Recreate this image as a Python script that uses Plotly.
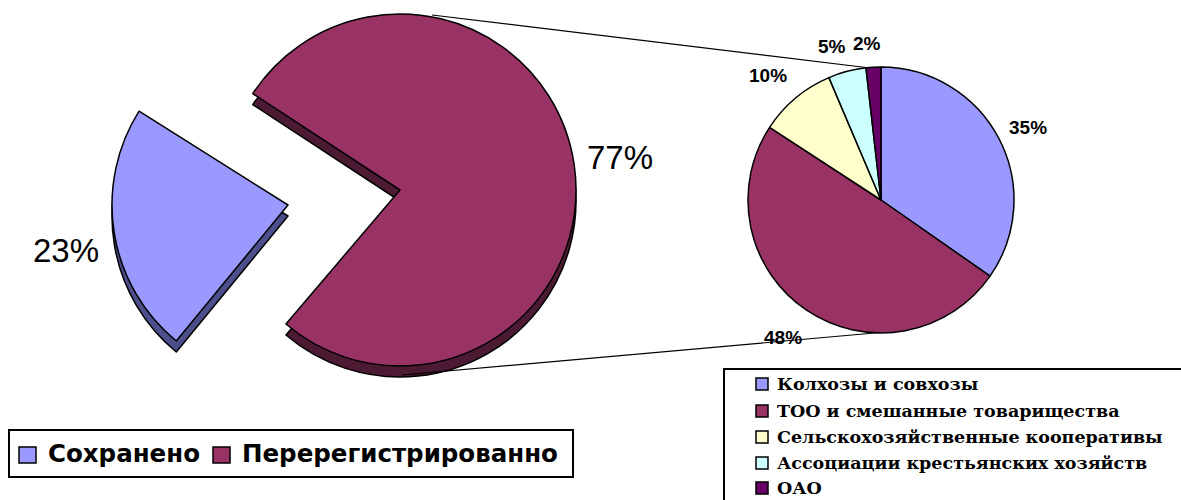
import plotly.graph_objects as go

W, H = 1181, 500

main_labels = ["Сохранено", "Перерегистрированно"]
main_values = [23, 77]
main_colors = ["#9999ff", "#993366"]
main_dark = ["#4d4f8c", "#4d1a33"]

detail_labels = ["Колхозы и совхозы", "ТОО и смешанные товарищества",
                 "Сельскохозяйственные кооперативы",
                 "Ассоциации крестьянских хозяйств", "ОАО"]
# slice sizes; printed labels as printed there
detail_values = [34.7, 49.5, 9.4, 4.6, 1.8]
detail_printed = ["35%", "48%", "10%", "5%", "2%"]
detail_colors = ["#9999ff", "#993366", "#ffffcc", "#ccffff", "#660066"]

CLEAR = "rgba(0,0,0,0)"
ROT_MAIN = 220.4
ROT_CUT = 219.4


def domain(cx, cy, r):
    return dict(x=[(cx - r) / W, (cx + r) / W], y=[1 - (cy + r) / H, 1 - (cy - r) / H])


def px(x):
    return x / W


def py(y):
    return 1 - y / H


def main_pie(cx, cy, colors, show, rot):
    return go.Pie(labels=main_labels, values=main_values, sort=False, direction="clockwise",
                  rotation=rot, domain=domain(cx, cy, 176), textinfo="none", showlegend=False,
                  marker=dict(colors=[c if s else CLEAR for c, s in zip(colors, show)],
                              line=dict(color=["#000000" if s else CLEAR for s in show],
                                        width=[1.5 if s else 0 for s in show])))


fig = go.Figure()
fig.add_trace(main_pie(400, 201, main_dark, [False, True], ROT_MAIN))
fig.add_trace(main_pie(400, 190, main_colors, [False, True], ROT_MAIN))
fig.add_trace(main_pie(288, 216, main_dark, [True, False], ROT_CUT))
fig.add_trace(main_pie(288, 205, main_colors, [True, False], ROT_CUT))
fig.add_trace(go.Pie(labels=detail_labels, values=detail_values, sort=False, direction="clockwise",
                     rotation=0, domain=domain(881, 200, 133), textinfo="none", showlegend=False,
                     marker=dict(colors=detail_colors, line=dict(color="#000000", width=1.5))))

shapes = []
annotations = []


def line(x0, y0, x1, y1, w=1.2):
    shapes.append(dict(type="line", xref="paper", yref="paper", x0=px(x0), y0=py(y0),
                       x1=px(x1), y1=py(y1), line=dict(color="#000000", width=w)))


def rect(x0, y0, x1, y1, fill, w=1.5):
    shapes.append(dict(type="rect", xref="paper", yref="paper", x0=px(x0), y0=py(y0),
                       x1=px(x1), y1=py(y1), fillcolor=fill, line=dict(color="#000000", width=w)))


def text(x, y, s, size, family, bold=False, anchor="center"):
    annotations.append(dict(xref="paper", yref="paper", x=px(x), y=py(y), text=f"<b>{s}</b>" if bold else s,
                            showarrow=False, xanchor=anchor, yanchor="middle",
                            font=dict(size=size, family=family, color="#000000")))


line(432, 15, 870, 68)
line(402, 375, 880, 332.5)

SANS = "Liberation Sans"

text(619.5, 157, f"{main_values[1]}%", 33, SANS)
text(65.5, 250, f"{main_values[0]}%", 33, SANS)

detail_pos = [(1027.5, 127), (783, 337), (767.5, 75), (832, 47), (867, 44)]
for (x, y), s in zip(detail_pos, detail_printed):
    text(x, y, s, 19, SANS, bold=True)

# left legend
rect(9, 430, 573, 477, "#ffffff", 2)
rect(19, 447, 36, 463, main_colors[0])
text(46, 453, main_labels[0], 24.5, "DejaVu Sans", bold=True, anchor="left")
rect(213, 447, 230, 463, main_colors[1])
text(240, 453, main_labels[1], 24.5, "DejaVu Sans", bold=True, anchor="left")

# right legend
rect(724, 369, 1195, 515, "#ffffff", 2)
rows = [384, 411, 437, 463, 488]
for y, s, c in zip(rows, detail_labels, detail_colors):
    rect(756, y - 6, 768, y + 6, c)
    text(775, y, s, 17.5, "DejaVu Serif", bold=True, anchor="left")

fig.update_layout(width=W, height=H, margin=dict(l=0, r=0, t=0, b=0), paper_bgcolor="#ffffff",
                  shapes=shapes, annotations=annotations)
fig.write_html("out.html", config={"displayModeBar": False},
               post_script="document.body.style.margin='0';document.documentElement.style.overflow='hidden';")
